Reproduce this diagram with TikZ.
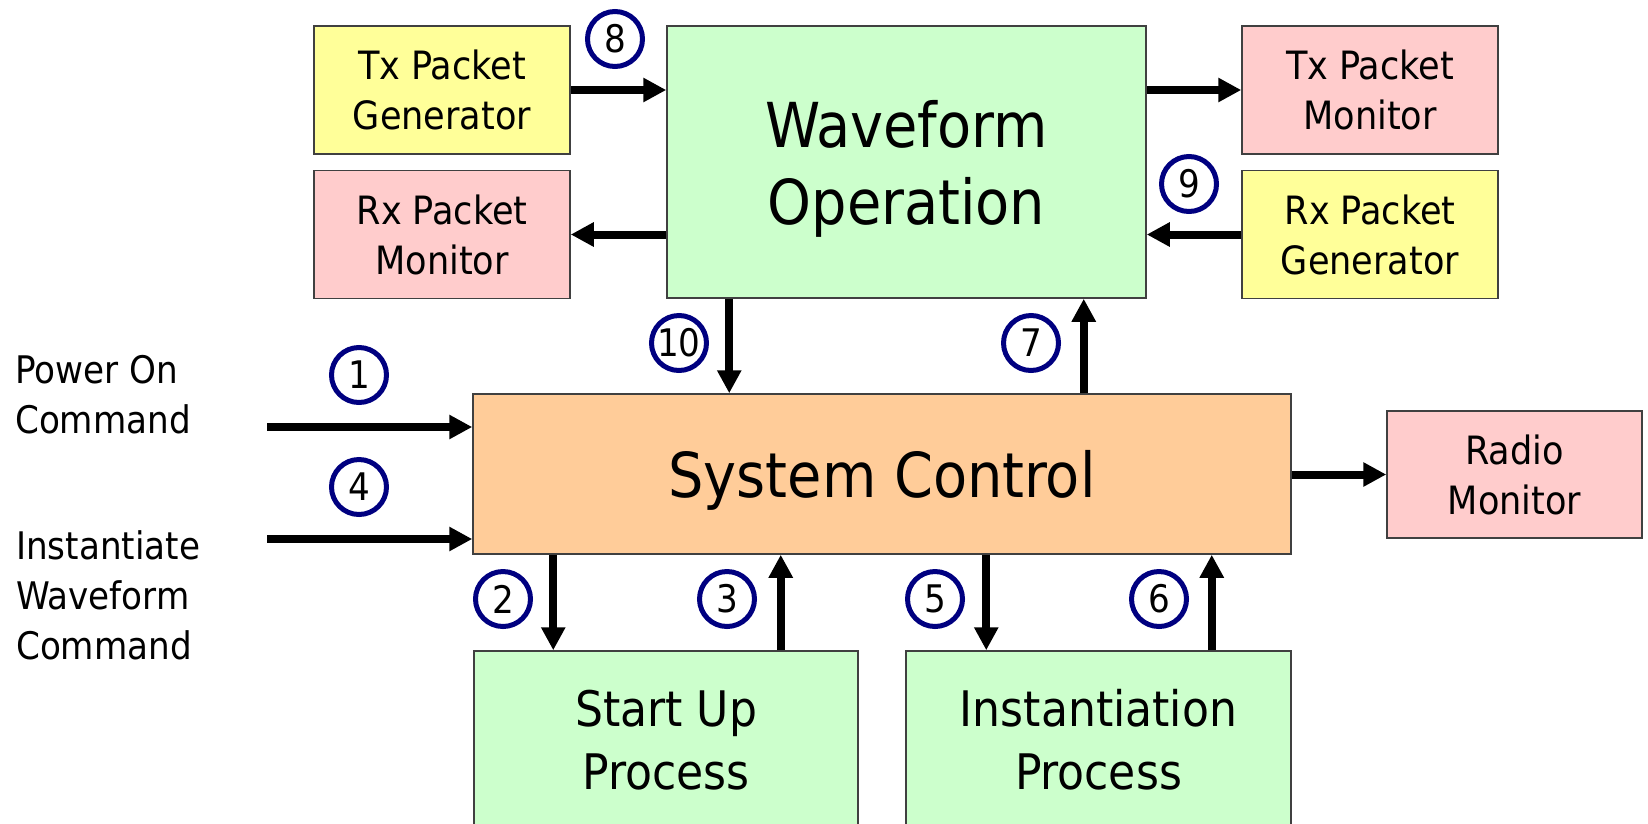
\documentclass[tikz,border=0pt]{standalone}
\usepackage{fontspec}
\setmainfont{DejaVu Sans Condensed}
\usetikzlibrary{arrows.meta}

\definecolor{genyellow}{HTML}{FFFF99}
\definecolor{monpink}{HTML}{FFCCCC}
\definecolor{procgreen}{HTML}{CCFFCC}
\definecolor{ctrlorange}{HTML}{FFCC99}
\definecolor{numnavy}{HTML}{000080}

\tikzset{
	blk/.style={draw=black!75, line width=1.5pt, align=center, inner sep=0pt},
	smallblk/.style={blk, minimum width=256pt, minimum height=128pt,
		font=\fontsize{39}{50}\selectfont, text depth=-6pt},
	bigblk/.style={blk, font=\fontsize{62}{77}\selectfont, text depth=-6pt},
	flow/.style={line width=8pt, -{Triangle[length=23pt,width=23pt]}},
	num/.style={circle, draw=numnavy, line width=5pt, minimum size=55pt,
		inner sep=0pt, font=\fontsize{38}{38}\selectfont},
	cmd/.style={anchor=north west, align=left, inner sep=0pt,
		font=\fontsize{38}{50}\selectfont},
}

\begin{document}
\begin{tikzpicture}[x=1pt, y=-1pt]

% frame %{{{2

	\clip (0,0) rectangle (1648,823);

% blocks %{{{2

	\node[smallblk, fill=genyellow] (TxGen) at (442,90) {Tx Packet\\Generator};
	\node[smallblk, fill=monpink] (RxMon) at (442,234.5) {Rx Packet\\Monitor};

	\node[bigblk, fill=procgreen, minimum width=479pt, minimum height=272pt]
		(Wave) at (906.5,162) {Waveform\\Operation};

	\node[smallblk, fill=monpink] (TxMon) at (1370,90) {Tx Packet\\Monitor};
	\node[smallblk, fill=genyellow] (RxGen) at (1370,234.5) {Rx Packet\\Generator};

	\node[bigblk, fill=ctrlorange, minimum width=818pt, minimum height=160pt]
		(Sys) at (882,474) {System Control};

	\node[smallblk, fill=monpink, minimum width=255pt, minimum height=127pt]
		(Radio) at (1514.5,474.5) {Radio\\Monitor};

	\node[blk, fill=procgreen, minimum width=384pt, minimum height=178pt,
		font=\fontsize{49}{63}\selectfont] (StartUp) at (666,740) {Start Up\\Process};
	\node[blk, fill=procgreen, minimum width=385pt, minimum height=178pt,
		font=\fontsize{49}{63}\selectfont] (Inst) at (1098.5,740) {Instantiation\\Process};

% commands %{{{2

	\node[cmd] (PowerCmd) at (15,355) {Power On\\Command};
	\node[cmd] (InstCmd) at (16,530) {Instantiate\\Waveform\\Command};

	\coordinate (PowerIn) at (267,427);
	\coordinate (InstIn) at (267,539);

% arrows %{{{2

	\draw[flow] (PowerIn) -- (PowerIn -| Sys.west);
	\draw[flow] (InstIn) -- (InstIn -| Sys.west);

	\draw[flow] (TxGen.east) -- (TxGen.east -| Wave.west);
	\draw[flow] (Wave.west |- RxMon.east) -- (RxMon.east);
	\draw[flow] (Wave.east |- TxMon.west) -- (TxMon.west);
	\draw[flow] (RxGen.west) -- (RxGen.west -| Wave.east);

	\draw[flow] ([xshift=63pt]Wave.south west) -- ([xshift=63pt]Wave.south west |- Sys.north);
	\draw[flow] ([xshift=-63pt]Wave.south east |- Sys.north) -- ([xshift=-63pt]Wave.south east);

	\draw[flow] ([xshift=80pt]StartUp.north west |- Sys.south) -- ([xshift=80pt]StartUp.north west);
	\draw[flow] ([xshift=-78pt]StartUp.north east) -- ([xshift=-78pt]StartUp.north east |- Sys.south);
	\draw[flow] ([xshift=81pt]Inst.north west |- Sys.south) -- ([xshift=81pt]Inst.north west);
	\draw[flow] ([xshift=-80pt]Inst.north east) -- ([xshift=-80pt]Inst.north east |- Sys.south);

	\draw[flow] (Sys.east |- Radio.west) -- (Radio.west);

% step numbers %{{{2

	\foreach \n/\x/\y in {1/359/375, 2/503/599, 3/727/599, 4/359/487, 5/935/599,
		6/1159/599, 7/1031/343, 8/615/39, 9/1189/184, 10/679/343}
	{ \node[num] (N\n) at (\x,\y) {\n}; }

% closing %{{{2

\end{tikzpicture}
\end{document}
